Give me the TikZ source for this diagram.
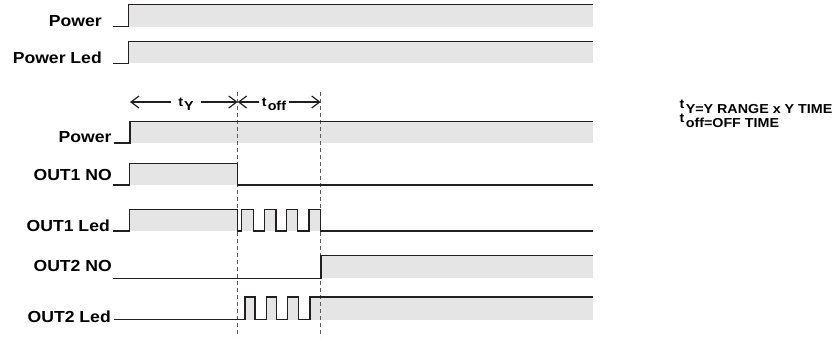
\documentclass[tikz,border=0pt]{standalone}
\usepackage{fontspec}
\setmainfont{Liberation Sans}[FakeStretch=1.1]
\usetikzlibrary{arrows.meta}
\definecolor{wavegray}{HTML}{E5E5E5}
\definecolor{waveink}{HTML}{231F20}
\definecolor{cutgray}{HTML}{5A5A5A}
\def\hiblock(#1:#2)(#3:#4){\fill[wavegray] (#1, #3) rectangle (#2, #4);}
\tikzset{
	wave/.style={line width=1.4pt, color=waveink},
	signame/.style={anchor=base east, inner sep=0pt, font=\fontsize{16}{18}\selectfont\bfseries},
	cutline/.style={line width=1pt, color=cutgray, dash pattern=on 4pt off 3pt},
	interval/.style={line width=1.2pt, color=waveink, {Straight Barb[length=8pt,width=12pt]}-{Straight Barb[length=8pt,width=12pt]}},
	intlabel/.style={anchor=base, fill=white, inner ysep=1pt, font=\fontsize{13}{15}\selectfont\bfseries},
	keynote/.style={anchor=base west, inner sep=0pt, font=\fontsize{13}{15}\selectfont\bfseries}
}

\begin{document}
\begin{tikzpicture}[x=1pt, y=-1pt]
			%%%%% START %%%%%
			\useasboundingbox (0, 0) rectangle (838, 338);
			
			% Power
			\hiblock(128.3:593.3)(4.5:26.7)
			\node[signame] (pwr) at (102, 26.7) {Power};
			\draw[wave] (113, 26.7) -| (128.3, 4.5) -- (593.3, 4.5);
			
			% Power Led
			\hiblock(128.3:593.3)(41.5:63.3)
			\node[signame] (pwrled) at (102, 63.3) {Power Led};
			\draw[wave] (113, 63.3) -| (128.3, 41.5) -- (593.3, 41.5);
			
			% fills of the timing part
			\hiblock(130:593.3)(121.5:142.8)
			\hiblock(129.3:237.7)(163.3:185)
			\hiblock(129.3:237.7)(209.3:231)
			\hiblock(241.7:253.3)(209.3:231)
			\hiblock(264.3:276)(209.3:231)
			\hiblock(286.7:297.7)(209.3:231)
			\hiblock(309:320.7)(209.3:231)
			\hiblock(321:593.3)(255.7:278.3)
			\hiblock(245:255)(297:319.7)
			\hiblock(266.7:276.7)(297:319.7)
			\hiblock(287.7:298.3)(297:319.7)
			\hiblock(310:593.3)(297:319.7)
			
			% cut lines
			\coordinate (cutAtop) at (237.7, 92);
			\coordinate (cutAbot) at (237.7, 337);
			\coordinate (cutBtop) at (320.7, 92);
			\coordinate (cutBbot) at (320.7, 337);
			\draw[cutline] (cutAtop) -- (cutAbot);
			\draw[cutline] (cutBtop) -- (cutBbot);
			
			% Power
			\node[signame] (pwrb) at (111.7, 142.8) {Power};
			\draw[wave] (114, 142.8) -| (130, 121.5) -- (593.3, 121.5);
			
			% OUT1 NO
			\node[signame] (outaNO) at (112, 180) {OUT1 NO};
			\draw[wave] (113, 185) -| (129.3, 163.3) -| (237.7, 185) -- (593.3, 185);
			
			% OUT1 Led
			\node[signame] (outaLed) at (110, 231) {OUT1 Led};
			\draw[wave] (113, 231) -| (129.3, 209.3) -| (237.7, 231) -| (241.7, 209.3) -| (253.3, 231) -| (264.3, 209.3) -| (276, 231) -| (286.7, 209.3) -| (297.7, 231) -| (309, 209.3) -| (320.7, 231) -- (593.3, 231);
			
			% OUT2 NO
			\node[signame] (outbNO) at (112, 271.7) {OUT2 NO};
			\draw[wave] (113, 278.3) -| (321, 255.7) -- (593.3, 255.7);
			
			% OUT2 Led
			\node[signame] (outbLed) at (111, 322.3) {OUT2 Led};
			\draw[wave] (114, 319.7) -| (245, 297) -| (255, 319.7) -| (266.7, 297) -| (276.7, 319.7) -| (287.7, 297) -| (298.3, 319.7) -| (310, 297) -- (593.3, 297);
			
			% intervals
			\coordinate (ystart) at (130, 102);
			\coordinate (ystop) at (237.7, 102);
			\coordinate (offstop) at (320.7, 102);
			\draw[interval] (ystart) -- (ystop);
			\draw[interval] (ystop) -- (offstop);
			\node[intlabel, inner xsep=7pt] (ty) at (186, 110) {\raisebox{3.5pt}{t}\kern1pt Y};
			\node[intlabel, inner xsep=2.5pt] (toff) at (274, 110) {\raisebox{3.5pt}{t}\kern1pt off};
			
			% key
			\node[keynote] (keyY) at (679.3, 113.5) {\raisebox{5pt}{t}\kern1.5pt Y=Y RANGE x Y TIME};
			\node[keynote] (keyoff) at (679.3, 127) {\raisebox{5pt}{t}\kern1.5pt off=OFF TIME};
			
			%%%%% END %%%%%
		\end{tikzpicture}
\end{document}
